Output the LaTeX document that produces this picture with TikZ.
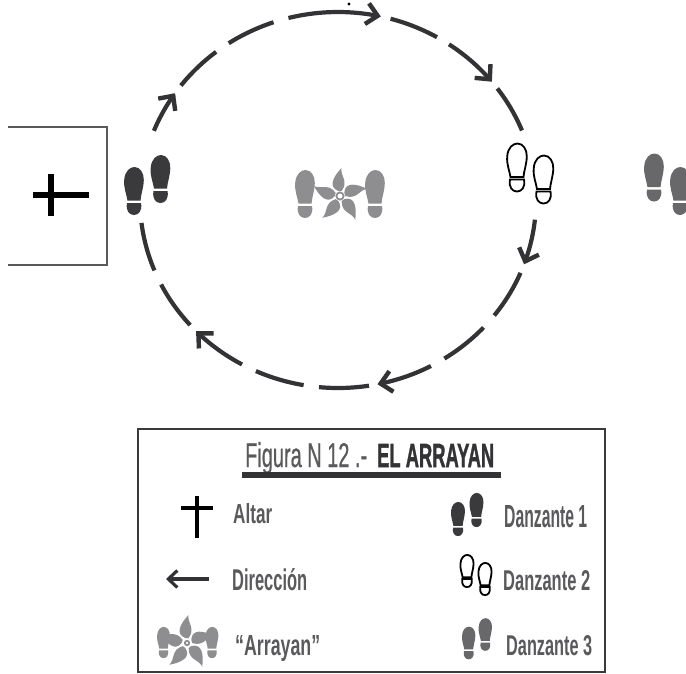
\documentclass[tikz,border=0pt]{standalone}
\usepackage{fontspec}
\usepackage{graphicx}
\setmainfont{Liberation Sans}
\newfontfamily\heavy[FakeBold=1.6]{Liberation Sans Bold}
\newfontfamily\medium[FakeBold=0.7]{Liberation Sans}
\usetikzlibrary{arrows.meta}
\definecolor{ink}{HTML}{333335}
\definecolor{txt}{HTML}{5A5A5C}
\definecolor{dark}{HTML}{3A3A3C}
\definecolor{mid}{HTML}{68686A}
\definecolor{pale}{HTML}{8E8E90}
\newcommand{\ringseg}[3][]{\draw[ringline,#1] plot[domain=#2:#3,samples=24] ({338+198*cos(\x)},{200-188*sin(\x)});}
\newcommand{\fittext}[3]{\resizebox{#1pt}{#2pt}{#3}}
\tikzset{
  ringline/.style={draw=ink,line width=4.2pt},
  headed/.style={-{Straight Barb[length=11pt,width=21pt,line width=4.4pt]}},
  label/.style={inner sep=0pt,anchor=base west,text=txt,font=\bfseries},
  blackshoe/.style={fill=dark},
  greyshoe/.style={fill=mid},
  paleshoe/.style={fill=pale},
  whiteshoe/.style={draw=black,fill=white,line width=1.8pt},
  shoe/.pic={
    \path[pic actions] (-6.5,9.5) .. controls (-7.5,3) and (-10.5,-3) .. (-9.8,-11)
       .. controls (-9.2,-20) and (-4,-24) .. (0.5,-24)
       .. controls (6,-24) and (10,-18) .. (9.8,-11)
       .. controls (9.6,-3) and (7,3) .. (6.5,9.5) -- cycle;
    \path[pic actions] (-7,12) -- (7,12)
       .. controls (8.5,20) and (4.5,24) .. (0,24)
       .. controls (-4.5,24) and (-8.5,20) .. (-7,12) -- cycle;
  },
  petal/.pic={
    \path[fill=pale] (-1.6,-5) .. controls (-12,-9) and (-7,-19) .. (1.5,-28)
       .. controls (0,-20) and (9,-15) .. (1.6,-5) -- cycle;
  },
  flower/.pic={
    \foreach \a in {0,72,144,216,288} {\pic[rotate=\a] {petal};}
    \fill[white] (0,0) circle (5);
    \draw[pale,line width=1.8pt] (0,0) circle (3.6);
  }
}
\begin{document}
\begin{tikzpicture}[x=1pt,y=-1pt]
\useasboundingbox (0,0) rectangle (686,673);
\clip (0,0) rectangle (686,673);
\fill[white] (0,0) rectangle (686,673);

% direction ring
\ringseg[headed]{158.4}{145.4}
\ringseg{142.5}{128}
\ringseg{123.5}{109}
\ringseg[headed]{104.5}{77.5}
\ringseg{74.6}{60}
\ringseg[headed]{55.9}{39}
\ringseg{36.4}{21.7}
\ringseg[headed]{-6}{-20}
\ringseg{-22.8}{-37.9}
\ringseg{-42.7}{-57.5}
\ringseg[headed]{-62}{-78.5}
\ringseg{-81}{-95.5}
\ringseg{-100}{-114.5}
\ringseg[headed]{-119}{-135.8}
\ringseg{-138.3}{-153.3}
\ringseg{-158}{-173}
\fill[black] (349,4) circle (1.6);

% altar
\draw[draw=txt,line width=1.8pt] (8,127) -- (107,127) -- (107,265) -- (8,265);
\draw[black,line width=5.5pt] (33,195) -- (89,195);
\draw[black,line width=5.5pt] (51,174) -- (51,216);

% dancers on the stage
\pic[blackshoe] at (134,191) {shoe};
\pic[blackshoe] at (160.5,179) {shoe};
\pic[whiteshoe] at (517,167.5) {shoe};
\pic[whiteshoe] at (543.5,179.5) {shoe};
\pic[greyshoe] at (654,177.5) {shoe};
\pic[greyshoe] at (680,191) {shoe};
\pic[paleshoe] at (305,194) {shoe};
\pic[paleshoe] at (375,194) {shoe};
\pic at (340,196) {flower};

% legend
\draw[draw=dark,line width=2.2pt] (138,429) rectangle (605,672);
\node[label,font=\medium] (title) at (245,467) {\fittext{122}{25}{Figura N 12 .-}};
\node[label,font=\heavy,text=ink] (titleb) at (377,467) {\fittext{117}{23}{EL ARRAYAN}};
\fill[ink] (242,472) rectangle (501,478);

\draw[black,line width=4pt] (181,508) -- (213,508);
\draw[black,line width=4pt] (197,496) -- (197,538);
\node[label] (altar) at (233,523) {\fittext{39}{20}{Altar}};

\draw[ink,line width=3.2pt,-{Straight Barb[length=9pt,width=17pt,line width=3.2pt]}] (209,579) -- (166,579);
\node[label] (dir) at (232,590) {\fittext{75}{22}{Dirección}};

\pic[paleshoe,scale=.65] at (163.5,642.5) {shoe};
\pic[paleshoe,scale=.65] at (212,642.5) {shoe};
\pic[scale=.6] at (187,643) {flower};
\node[label] (arr) at (235,655) {\fittext{85}{20}{“Arrayan”}};

\pic[blackshoe,scale=.71] at (458,519) {shoe};
\pic[blackshoe,scale=.71] at (476.5,510) {shoe};
\node[label] (d1) at (504,527) {\fittext{83}{22}{Danzante 1}};

\pic[whiteshoe,scale=.67] at (467,571) {shoe};
\pic[whiteshoe,scale=.67] at (485,579) {shoe};
\node[label] (d2) at (503,590) {\fittext{87}{20}{Danzante 2}};

\pic[greyshoe,scale=.68] at (468.7,643) {shoe};
\pic[greyshoe,scale=.68] at (485.3,634.5) {shoe};
\node[label] (d3) at (506,655) {\fittext{86}{20}{Danzante 3}};
\end{tikzpicture}
\end{document}
